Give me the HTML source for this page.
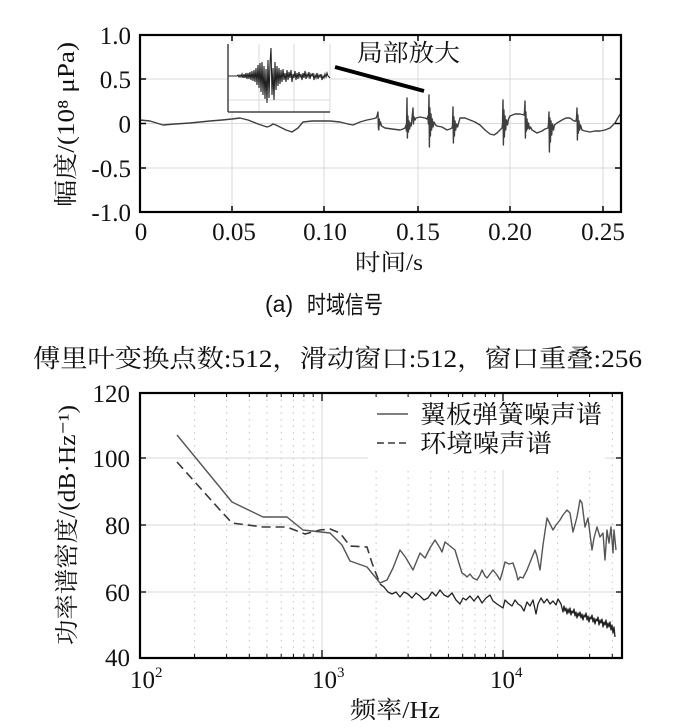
<!DOCTYPE html>
<html><head><meta charset="utf-8"><style>
html,body{margin:0;padding:0;background:#fff;}
svg{display:block;}
.s{font-family:"Liberation Serif","Noto Serif CJK SC",serif;fill:#111;}
.ss{font-family:"Liberation Sans","Noto Sans CJK SC",sans-serif;fill:#111;}
</style></head><body>
<svg width="678" height="728" viewBox="0 0 678 728" xmlns="http://www.w3.org/2000/svg">
<rect width="678" height="728" fill="#fff"/>

<!-- ===== TOP CHART ===== -->
<g stroke="#dadada" stroke-width="1">
<line x1="232" y1="35" x2="232" y2="212"/><line x1="324" y1="35" x2="324" y2="212"/>
<line x1="418" y1="35" x2="418" y2="212"/><line x1="510" y1="35" x2="510" y2="212"/>
<line x1="603" y1="35" x2="603" y2="212"/>
<line x1="140" y1="79" x2="621" y2="79"/><line x1="140" y1="123.5" x2="621" y2="123.5"/>
<line x1="140" y1="168" x2="621" y2="168"/>
</g>

<!-- inset -->
<rect x="228" y="44" width="102" height="68" fill="#fff"/>
<g stroke="#dadada" stroke-width="1">
<line x1="259" y1="44" x2="259" y2="112"/><line x1="294" y1="44" x2="294" y2="112"/>
<line x1="330" y1="44" x2="330" y2="112"/><line x1="228" y1="100" x2="330" y2="100"/>
</g>
<path d="M228,76 L237,76 L238,75 L239,77 L240,75 L241,77 L242,74 L243,78 L244,74 L245,78 L246,73 L247,79 L248,73 L249,79 L250,72 L251,80 L252,71 L253,81 L254,70 L255,82 L256,68 L257,85 L258,65 L259,88 L260,63 L261,92 L262,62 L263,95 L264,66 L265,99 L266,69 L267,103 L268,60 L269,98 L270,64 L271,48 L272,95 L273,68 L274,100 L275,62 L276,90 L277,66 L278,86 L279,68 L280,84 L281,70 L282,82 L283,69 L284,80 L285,73 L286,82 L287,70 L288,80 L289,72 L290,78 L291,70 L292,82 L293,74 L294,78 L295,71 L296,80 L297,73 L298,79 L299,72 L300,77 L301,74 L302,80 L303,73 L304,78 L305,71 L306,79 L307,74 L308,77 L309,72 L310,79 L311,74 L312,76 L313,73 L314,80 L315,75 L316,78 L317,73 L318,79 L319,75 L320,77 L321,74 L322,80 L323,76 L324,78 L325,74 L326,77 L327,73 L328,76 L330,78" fill="none" stroke="#222" stroke-width="1.1"/>
<g stroke="#444" stroke-width="1.5">
<line x1="228" y1="44" x2="228" y2="112"/><line x1="228" y1="112" x2="330" y2="112"/>
</g>
<line x1="335" y1="67" x2="424" y2="91" stroke="#000" stroke-width="4"/>

<!-- signal -->
<path d="M140,120 L150,121 L163,125 L175,124 L190,123 L200,122 L210,121 L222,120 L232,119 L240,118 L248,120 L258,124 L264,126 L267,127 L270,126 L273,124 L276,125 L280,127 L286,130 L292,132 L298,128 L303,122 L312,121 L320,121 L330,121 L340,122 L348,124 L353,125 L360,122 L367,120 L372,119 L376,118
L377,116 L378,112 L378.4,128 L378.8,130 L379.3,119 L379.8,125 L380.5,122 L381.5,126
L385,128 L392,129 L400,130 L403,129 L405,128
L406,125 L406.4,131 L407,98 L407.4,138 L407.9,116 L408.4,132 L409,121 L409.6,129 L410.4,123 L411.2,126
L413,108 L413.4,124 L414,117 L415,120 L416,118
L420,117 L425,118 L427,119
L428,116 L428.4,124 L429,95 L429.4,147 L429.9,108 L430.4,136 L431,114 L431.6,130 L432.3,119 L433,127 L434,122 L435.5,125 L437,126
L442,127 L447,130 L450,129 L452,128
L452.5,125 L453,107 L453.4,143 L453.9,117 L454.4,136 L455,121 L455.7,130 L456.5,124 L457.6,127
L460,118 L465,118 L470,120 L475,122 L480,125 L485,130 L490,134 L494,135 L497,133 L500,130 L502,128
L502.5,124 L503,100 L503.4,145 L503.9,110 L504.4,137 L505,116 L505.7,130 L506.5,120 L507.5,125 L508.5,119
L510,116 L515,114 L520,114 L524,115
L524.5,112 L525,101 L525.4,138 L525.9,112 L526.4,131 L527,119 L527.7,129 L528.5,123 L529.5,129 L530.5,127
L532,130 L537,133 L542,131 L545,129 L548,128
L548.5,124 L549,112 L549.4,152 L549.9,118 L550.4,142 L551,121 L551.7,135 L552.5,124 L553.5,130 L554.5,125
L557,123 L562,120 L566,118 L570,118 L574,121 L576,121
L576.5,118 L577,108 L577.4,140 L577.9,115 L578.4,133 L579,121 L579.7,130 L580.5,125 L582,130
L585,131 L590,132 L595,131 L600,131 L605,130 L610,128 L615,123 L619,116 L621,113" fill="none" stroke="#3f3f3f" stroke-width="1.4" stroke-linejoin="round"/>

<rect x="140" y="35" width="481" height="177" fill="none" stroke="#000" stroke-width="2.2"/>
<g stroke="#000" stroke-width="1.5">
<line x1="140" y1="79" x2="146" y2="79"/><line x1="140" y1="123.5" x2="146" y2="123.5"/><line x1="140" y1="168" x2="146" y2="168"/>
<line x1="621" y1="79" x2="615" y2="79"/><line x1="621" y1="123.5" x2="615" y2="123.5"/><line x1="621" y1="168" x2="615" y2="168"/>
<line x1="232" y1="212" x2="232" y2="206"/><line x1="324" y1="212" x2="324" y2="206"/><line x1="418" y1="212" x2="418" y2="206"/><line x1="510" y1="212" x2="510" y2="206"/><line x1="603" y1="212" x2="603" y2="206"/>
<line x1="232" y1="35" x2="232" y2="41"/><line x1="324" y1="35" x2="324" y2="41"/><line x1="418" y1="35" x2="418" y2="41"/><line x1="510" y1="35" x2="510" y2="41"/><line x1="603" y1="35" x2="603" y2="41"/>
</g>

<g class="s" font-size="25" text-anchor="end">
<text x="131" y="44">1.0</text><text x="131" y="88">0.5</text><text x="131" y="132.5">0</text>
<text x="131" y="177">-0.5</text><text x="131" y="221">-1.0</text>
</g>
<g class="s" font-size="25" text-anchor="middle">
<text x="141" y="240">0</text><text x="234" y="240">0.05</text><text x="325" y="240">0.10</text>
<text x="418" y="240">0.15</text><text x="510" y="240">0.20</text><text x="603" y="240">0.25</text>
</g>
<text class="s" x="357" y="61" font-size="24" textLength="103" lengthAdjust="spacingAndGlyphs">局部放大</text>
<text class="s" x="355" y="270" font-size="23" textLength="68" lengthAdjust="spacingAndGlyphs">时间/s</text>
<g transform="translate(74,207) rotate(-90)">
<text class="s" x="0" y="0" font-size="24" textLength="165" lengthAdjust="spacingAndGlyphs">幅度/(10⁸ μPa)</text>
</g>
<text class="ss" x="265" y="312" font-size="23">(a)</text>
<text class="ss" x="307" y="313" font-size="24" textLength="76" lengthAdjust="spacingAndGlyphs">时域信号</text>

<!-- ===== BOTTOM CHART ===== -->
<text class="s" x="33" y="367" font-size="25" textLength="609" lengthAdjust="spacingAndGlyphs">傅里叶变换点数:512，滑动窗口:512，窗口重叠:256</text>

<g stroke="#c4c4c4" stroke-width="1" stroke-dasharray="1.5,5">
<line x1="194.6" y1="393" x2="194.6" y2="658"/><line x1="226.6" y1="393" x2="226.6" y2="658"/>
<line x1="249.3" y1="393" x2="249.3" y2="658"/><line x1="266.9" y1="393" x2="266.9" y2="658"/>
<line x1="281.2" y1="393" x2="281.2" y2="658"/><line x1="293.4" y1="393" x2="293.4" y2="658"/>
<line x1="303.9" y1="393" x2="303.9" y2="658"/><line x1="313.2" y1="393" x2="313.2" y2="658"/>
<line x1="376.1" y1="393" x2="376.1" y2="658"/><line x1="408.1" y1="393" x2="408.1" y2="658"/>
<line x1="430.8" y1="393" x2="430.8" y2="658"/><line x1="448.4" y1="393" x2="448.4" y2="658"/>
<line x1="462.7" y1="393" x2="462.7" y2="658"/><line x1="474.9" y1="393" x2="474.9" y2="658"/>
<line x1="485.4" y1="393" x2="485.4" y2="658"/><line x1="494.7" y1="393" x2="494.7" y2="658"/>
<line x1="557.6" y1="393" x2="557.6" y2="658"/><line x1="589.6" y1="393" x2="589.6" y2="658"/>
<line x1="612.3" y1="393" x2="612.3" y2="658"/>
</g>
<g stroke="#d8d8d8" stroke-width="1">
<line x1="140" y1="458" x2="622" y2="458"/><line x1="140" y1="525" x2="622" y2="525"/>
<line x1="140" y1="592" x2="622" y2="592"/>
<line x1="322" y1="393" x2="322" y2="658"/><line x1="503" y1="393" x2="503" y2="658"/>
</g>

<!-- legend background -->
<rect x="368" y="396" width="237" height="74" fill="#fff"/>

<!-- curves -->
<path d="M177,435 L232,502 L263,517 L287,517 L303,530 L330,533 L342,545 L350,561 L367,567 L380,583 L387,580 L393,568 L400,550 L406,558 L413,570 L420,553 L425,558 L430,548 L435,540 L440,548 L442,552 L445,542 L450,546 L455,550 L458,560 L462,573 L465,575 L467,577 L470,574 L473,578 L477,580 L480,575 L482,570 L485,576 L487,578 L490,574 L493,570 L497,575 L500,580 L503,570 L505,562 L509,564 L513,563 L516,572 L518,580 L520,577 L523,578 L525,574 L527,570 L531,560 L535,550 L537,556 L540,570 L543,545 L547,518 L550,524 L553,530 L556,525 L560,520 L563,515 L567,510 L570,513 L573,532 L577,517 L580,500 L582,503 L585,527 L588,518 L592,550 L594,538 L597,527 L600,537 L603,533 L605,560 L607,530 L609,543 L611,527 L613,553 L614,530 L616,550" fill="none" stroke="#555" stroke-width="1.4" stroke-linejoin="round"/>
<path d="M177,462 L220,510 L232,523 L263,527 L287,527 L305,534 L320,530 L330,529 L340,533 L350,546 L367,547 L372,563 L380,584" fill="none" stroke="#3a3a3a" stroke-width="1.6" stroke-dasharray="9,5"/>
<path d="M380,584 L384,587 L388,592 L392,594 L396,592 L400,597 L404,592 L408,594 L412,598 L416,593 L420,596 L424,600 L428,598 L432,592 L436,596 L440,590 L444,595 L448,597 L452,593 L456,600 L460,604 L463,598 L466,600 L470,596 L474,601 L478,596 L482,603 L486,598 L490,595 L493,601 L497,604 L500,606 L503,608 L505,600 L508,603 L512,606 L515,600 L518,604 L521,606 L524,611 L527,602 L530,606 L533,600 L536,614 L538,604 L541,598 L544,603 L547,599 L550,604 L553,601 L556,605 L558,599 L561,604 L563,612 L564,606 L565,611 L566,608 L567,614 L568,609 L569,613 L570,608 L571,615 L572,611 L573,613 L574,609 L575,616 L576,612 L577,618 L578,613 L579,616 L580,612 L581,618 L582,614 L583,620 L584,615 L585,617 L586,613 L587,620 L588,616 L589,622 L590,617 L591,619 L592,615 L593,622 L594,618 L595,624 L596,619 L597,621 L598,617 L599,625 L600,620 L601,623 L602,619 L603,627 L604,622 L605,625 L606,620 L607,628 L608,623 L609,627 L610,622 L611,630 L612,625 L613,633 L614,627 L615,637" fill="none" stroke="#222" stroke-width="1.3" stroke-linejoin="round"/>

<rect x="140" y="393" width="482" height="265" fill="none" stroke="#000" stroke-width="2.2"/>
<g stroke="#000" stroke-width="1.3">
<line x1="140" y1="458" x2="146" y2="458"/><line x1="140" y1="525" x2="146" y2="525"/><line x1="140" y1="592" x2="146" y2="592"/>
<line x1="622" y1="458" x2="616" y2="458"/><line x1="622" y1="525" x2="616" y2="525"/><line x1="622" y1="592" x2="616" y2="592"/>
<line x1="322" y1="658" x2="322" y2="650"/><line x1="503" y1="658" x2="503" y2="650"/>
<line x1="322" y1="393" x2="322" y2="401"/><line x1="503" y1="393" x2="503" y2="401"/>
</g>
<g stroke="#000" stroke-width="1">
<path d="M194.6,658v-4M226.6,658v-4M249.3,658v-4M266.9,658v-4M281.2,658v-4M293.4,658v-4M303.9,658v-4M313.2,658v-4M376.1,658v-4M408.1,658v-4M430.8,658v-4M448.4,658v-4M462.7,658v-4M474.9,658v-4M485.4,658v-4M494.7,658v-4M557.6,658v-4M589.6,658v-4M612.3,658v-4"/>
<path d="M194.6,393v4M226.6,393v4M249.3,393v4M266.9,393v4M281.2,393v4M293.4,393v4M303.9,393v4M313.2,393v4M376.1,393v4M408.1,393v4M430.8,393v4M448.4,393v4M462.7,393v4M474.9,393v4M485.4,393v4M494.7,393v4M557.6,393v4M589.6,393v4M612.3,393v4"/>
</g>

<!-- legend -->
<line x1="377" y1="414" x2="408" y2="414" stroke="#555" stroke-width="1.4"/>
<line x1="377" y1="443" x2="408" y2="443" stroke="#3a3a3a" stroke-width="1.6" stroke-dasharray="7,4"/>
<text class="s" x="420" y="423" font-size="25" textLength="182" lengthAdjust="spacingAndGlyphs">翼板弹簧噪声谱</text>
<text class="s" x="420" y="452" font-size="25" textLength="132" lengthAdjust="spacingAndGlyphs">环境噪声谱</text>

<g class="s" font-size="25" text-anchor="end">
<text x="130" y="402">120</text><text x="130" y="467">100</text><text x="130" y="534">80</text>
<text x="130" y="601">60</text><text x="130" y="666">40</text>
</g>
<g class="s" font-size="25">
<text x="130" y="688">10</text><text x="155" y="677" font-size="15">2</text>
<text x="312" y="688">10</text><text x="337" y="677" font-size="15">3</text>
<text x="490" y="688">10</text><text x="515" y="677" font-size="15">4</text>
</g>
<text class="s" x="350" y="718" font-size="24" textLength="90" lengthAdjust="spacingAndGlyphs">频率/Hz</text>
<g transform="translate(75,645) rotate(-90)">
<text class="s" x="0" y="0" font-size="24" textLength="240" lengthAdjust="spacingAndGlyphs">功率谱密度/(dB·Hz⁻¹)</text>
</g>
</svg>
</body></html>
